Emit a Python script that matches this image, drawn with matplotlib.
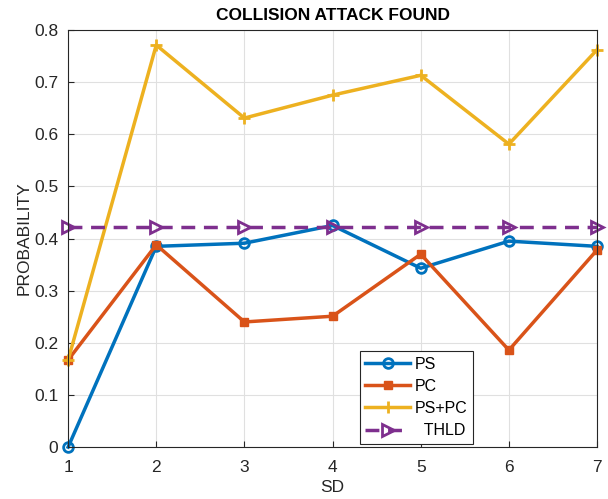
import numpy as np
import matplotlib.pyplot as plt

plt.rcParams['font.family'] = ['Liberation Sans', 'DejaVu Sans']

sd = [1, 2, 3, 4, 5, 6, 7]
ps = [0.0, 0.385, 0.391, 0.425, 0.343, 0.395, 0.385]
pc = [0.167, 0.388, 0.240, 0.251, 0.370, 0.186, 0.378]
ps_pc = [0.167, 0.771, 0.631, 0.675, 0.713, 0.581, 0.762]
thld = [0.422] * 7

fig = plt.figure(figsize=(6.08, 4.99), dpi=100)
ax = fig.add_axes([0.112, 0.104, 0.870, 0.836])

ax.plot(sd, ps, '-o', color='#0072BD', lw=2.5, ms=7, mfc='none', mew=2, label='PS')
ax.plot(sd, pc, '-s', color='#D95319', lw=2.5, ms=6, label='PC')
ax.plot(sd, ps_pc, '-+', color='#EDB120', lw=2.5, ms=9, mew=2, label='PS+PC')
ax.plot(sd, thld, '--', marker='>', color='#7E2F8E', lw=2.5, ms=9, mfc='none', mew=2,
        dashes=(4, 2.5), label='  THLD')

ax.set_xlim(1, 7)
ax.set_ylim(0, 0.8)
ax.set_xticks(sd)
ax.set_yticks(np.arange(0, 0.81, 0.1))
ax.set_yticklabels(['0', '0.1', '0.2', '0.3', '0.4', '0.5', '0.6', '0.7', '0.8'])
ax.grid(True, color='#e0e0e0', lw=0.8)
ax.set_axisbelow(True)
ax.tick_params(direction='in', labelsize=12.5, colors='#262626', length=4)
ax.tick_params(axis='x', pad=9)
ax.tick_params(axis='y', pad=7)
for s in ax.spines.values():
    s.set_color('#262626')
    s.set_linewidth(0.8)
for line in ax.lines:
    line.set_clip_on(False)

ax.set_xlabel('SD', fontsize=12.5, color='#262626', labelpad=4)
ax.set_ylabel('PROBABILITY', fontsize=12.5, color='#262626', labelpad=2)
ax.set_title('COLLISION ATTACK FOUND', fontsize=12.5, fontweight='bold', pad=7)

leg = ax.legend(loc='lower left', bbox_to_anchor=(0.551, 0.008), fontsize=11.5, fancybox=False,
                edgecolor='#262626', framealpha=1, handlelength=2.8, borderpad=0.35,
                labelspacing=0.45, handletextpad=0.3, borderaxespad=0)
leg.get_frame().set_linewidth(0.8)

fig.savefig('out.png', dpi=100)
